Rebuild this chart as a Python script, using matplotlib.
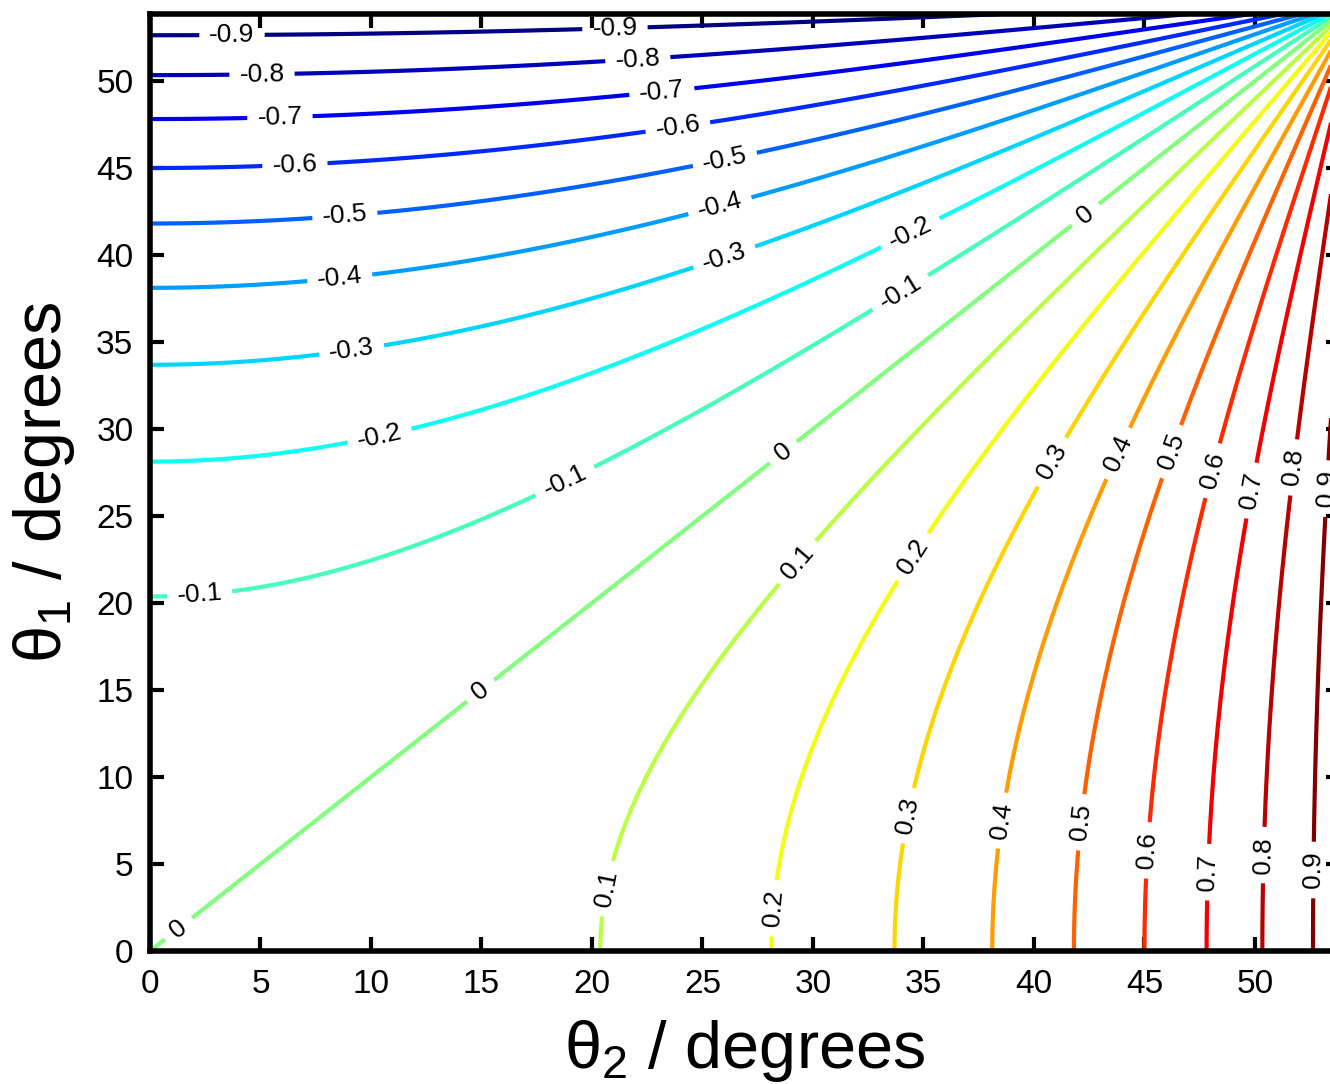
import numpy as np
import matplotlib
matplotlib.use("Agg")
import matplotlib.pyplot as plt
from matplotlib.colors import LinearSegmentedColormap

# ---- data ----
levels = [-0.9, -0.8, -0.7, -0.6, -0.5, -0.4, -0.3, -0.2, -0.1,
          0.0, 0.1, 0.2, 0.3, 0.4, 0.5, 0.6, 0.7, 0.8, 0.9]
x_ticks = [0, 5, 10, 15, 20, 25, 30, 35, 40, 45, 50]
y_ticks = [0, 5, 10, 15, 20, 25, 30, 35, 40, 45, 50]
theta_max = 53.85          # axis extent (degrees)
xlabel = r"$\mathrm{θ_2}$ / degrees"
ylabel = r"$\mathrm{θ_1}$ / degrees"

# field: order-parameter contrast  (P2(θ1) - P2(θ2)) / (P2(θ1) + P2(θ2))
th2 = np.linspace(0, theta_max, 700)
th1 = np.linspace(0, theta_max, 700)
T2, T1 = np.meshgrid(th2, th1)
P2a = (3 * np.cos(np.radians(T1)) ** 2 - 1) / 2
P2b = (3 * np.cos(np.radians(T2)) ** 2 - 1) / 2
Z = (P2a - P2b) / (P2a + P2b)

# label anchor positions (pixel layout of the reference, converted below)
label_px = [(232, 38), (615, 31), (262, 76), (638, 62), (280, 120), (662, 93),
            (295, 167), (678, 128), (345, 217), (725, 160), (340, 280), (720, 206),
            (352, 352), (724, 256), (380, 438), (910, 232), (200, 597), (565, 481),
            (900, 292), (178, 928), (480, 690), (783, 452), (1085, 214),
            (604, 888), (797, 562), (770, 908), (910, 555), (905, 815), (1050, 461),
            (998, 820), (1115, 452), (1078, 822), (1167, 450), (1142, 850), (1210, 470),
            (1203, 872), (1248, 490), (1260, 855), (1290, 467), (1310, 870), (1316, 488)]

# MATLAB-style jet
mjet = LinearSegmentedColormap.from_list(
    "mjet",
    [(0.0, (0, 0, 0.5)), (0.125, (0, 0, 1)), (0.375, (0, 1, 1)),
     (0.625, (1, 1, 0)), (0.875, (1, 0, 0)), (1.0, (0.5, 0, 0))])

plt.rcParams["font.family"] = ["Liberation Sans", "DejaVu Sans"]
plt.rcParams["mathtext.fontset"] = "custom"
plt.rcParams["mathtext.rm"] = "Liberation Sans"
plt.rcParams["mathtext.it"] = "Liberation Sans:italic"

W, H = 1330, 1084
fig = plt.figure(figsize=(W / 100, H / 100), dpi=100)
ax_l, ax_r, ax_t, ax_b = 150, 1340, 14, 951
ax = fig.add_axes([ax_l / W, 1 - ax_b / H, (ax_r - ax_l) / W, (ax_b - ax_t) / H])

cs = ax.contour(T2, T1, Z, levels=levels, cmap=mjet, vmin=-0.9, vmax=0.9,
                linewidths=3.0)
ax.set_xlim(0, theta_max)
ax.set_ylim(0, theta_max)

# convert label pixel anchors to data coordinates
manual = []
for px, py in label_px:
    xd = (px - ax_l) / (ax_r - ax_l) * theta_max
    yd = (ax_b - py) / (ax_b - ax_t) * theta_max
    manual.append((xd, yd))

ax.clabel(cs, levels=levels, inline=True, inline_spacing=10, fontsize=19,
          colors="k", fmt=lambda v: f"{v:g}" if abs(v) > 1e-9 else "0",
          manual=manual)

ax.set_xticks(x_ticks)
ax.set_yticks(y_ticks)
ax.tick_params(direction="in", length=10, width=3, labelsize=24,
               top=True, right=True)
ax.tick_params(axis="x", pad=13)
ax.tick_params(axis="y", pad=12)
for s in ax.spines.values():
    s.set_linewidth(4)

ax.set_xlabel(xlabel, fontsize=48, labelpad=13)
ax.set_ylabel(ylabel, fontsize=48, labelpad=14)

fig.savefig("out.png", dpi=100)
